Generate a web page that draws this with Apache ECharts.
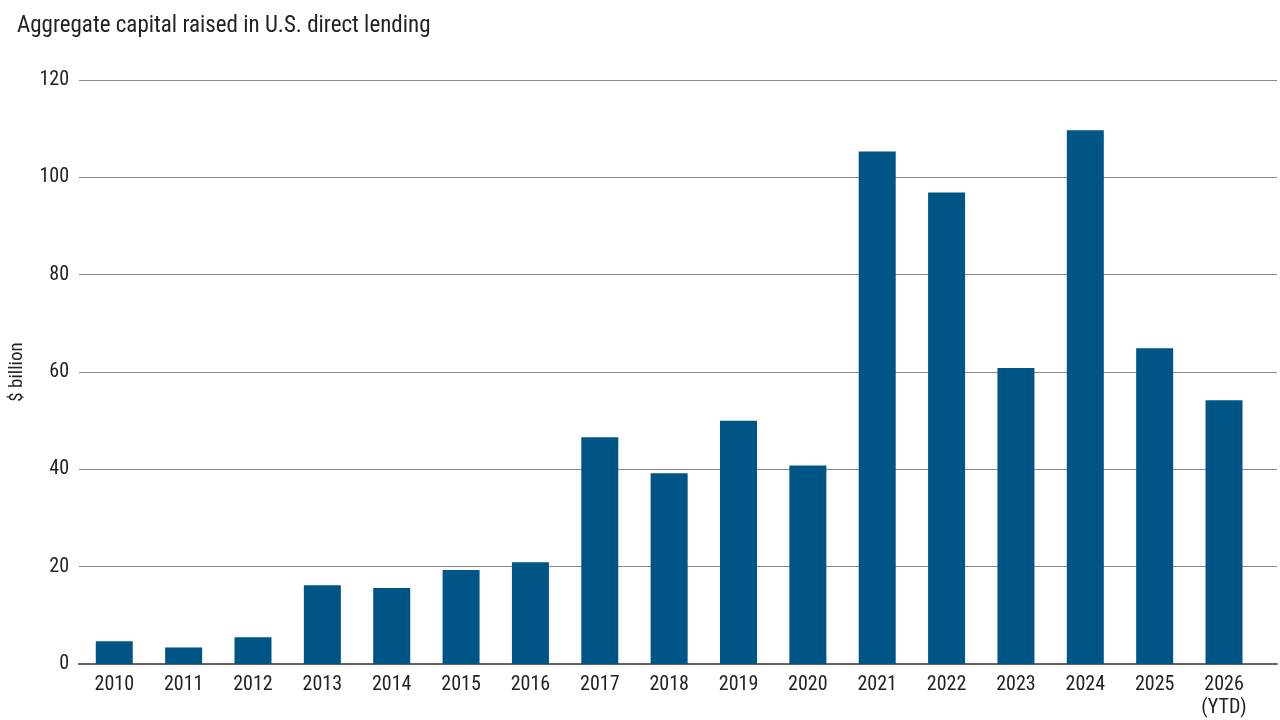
<!DOCTYPE html>
<html>
<head>
<meta charset="utf-8">
<script src="https://cdn.jsdelivr.net/npm/echarts@6/dist/echarts.min.js"></script>
<style>
	html, body { margin: 0; padding: 0; background: #fff; }
	#chart { width: 1280px; height: 720px; }
</style>
</head>
<body>
<div id="chart"></div>
<script>
var years = ["2010", "2011", "2012", "2013", "2014", "2015", "2016", "2017", "2018",
	"2019", "2020", "2021", "2022", "2023", "2024", "2025", "2026\n(YTD)"];
var capitalRaised = [4.7, 3.4, 5.5, 16.2, 15.6, 19.3, 20.9, 46.6, 39.2,
	50.0, 40.8, 105.3, 96.9, 60.8, 109.7, 64.9, 54.2];
var yTicks = [0, 20, 40, 60, 80, 100, 120];

var FONT = "'Roboto Condensed', 'Liberation Sans Narrow', 'Arial Narrow', Roboto";
var TEXT = "#222";

var myChart = echarts.init(document.getElementById("chart"), null, { renderer: "canvas" });
var option = {
	animation: false,
	title: {
		text: "Aggregate capital raised in U.S. direct lending",
		left: 12,
		top: 10,
		textStyle: { fontFamily: FONT, fontSize: 23, fontWeight: "normal", color: TEXT }
	},
	// grid 0: gridlines full width, grid 1: bars
	grid: [
		{ left: 70, right: 3, top: 80, bottom: 56 },
		{ left: 79.6, right: 21.3, top: 80, bottom: 56 }
	],
	xAxis: [
		{
			gridIndex: 0, type: "value", min: 0, max: 1,
			axisLine: { show: true, onZero: false, lineStyle: { color: "#666", width: 2 } },
			axisTick: { show: false }, axisLabel: { show: false }, splitLine: { show: false }
		},
		{
			gridIndex: 1, type: "category", data: years,
			axisLine: { show: false }, axisTick: { show: false },
			axisLabel: { margin: 9, fontFamily: FONT, fontSize: 20, color: TEXT, lineHeight: 23, interval: 0 }
		}
	],
	yAxis: [
		{
			gridIndex: 0, type: "value", min: yTicks[0], max: yTicks[yTicks.length - 1], interval: 20,
			name: "$ billion", nameLocation: "middle", nameGap: 52,
			nameTextStyle: { fontFamily: FONT, fontSize: 19, color: TEXT },
			axisLine: { show: false }, axisTick: { show: false },
			axisLabel: { margin: 10, fontFamily: FONT, fontSize: 20, color: TEXT },
			splitLine: { lineStyle: { color: "#8a8a8a", width: 1.2 } }
		},
		{
			gridIndex: 1, type: "value", min: yTicks[0], max: yTicks[yTicks.length - 1],
			show: false, splitLine: { show: false }
		}
	],
	series: [
		{
			type: "bar",
			xAxisIndex: 1,
			yAxisIndex: 1,
			data: capitalRaised,
			barWidth: 37,
			itemStyle: { color: "#005587" }
		}
	]
};
myChart.setOption(option);
window.addEventListener("resize", myChart.resize);
</script>
</body>
</html>
